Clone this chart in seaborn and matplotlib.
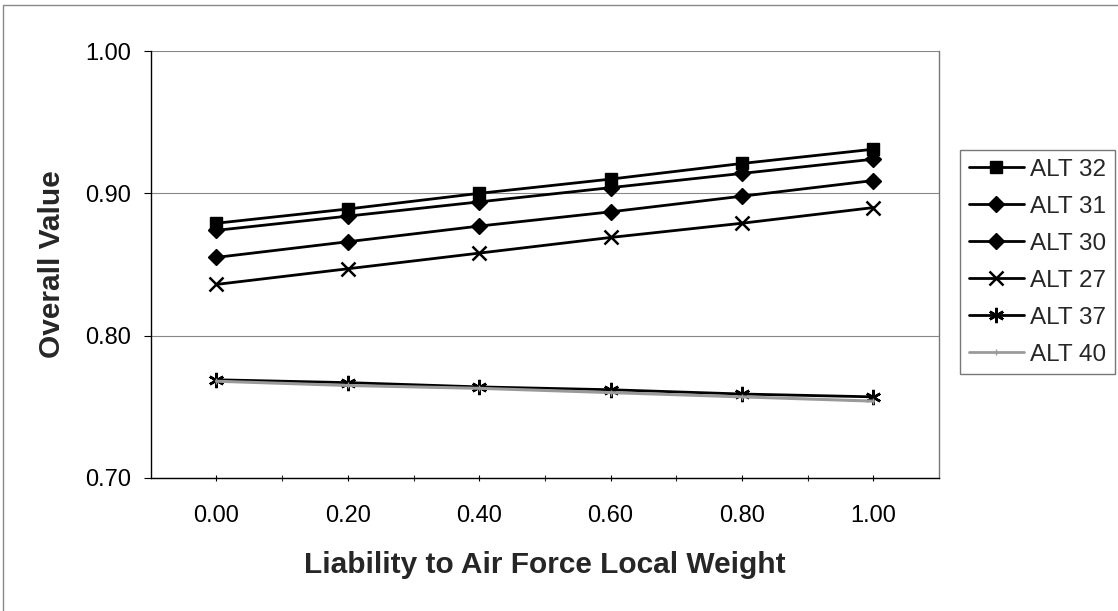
import matplotlib
matplotlib.use("Agg")
import matplotlib.pyplot as plt
import seaborn as sns
import pandas as pd
from matplotlib.patches import Rectangle
from matplotlib.lines import Line2D

sns.set_theme(style="white")
plt.rcParams['font.family'] = ['Liberation Sans', 'DejaVu Sans']

weights = [0.00, 0.20, 0.40, 0.60, 0.80, 1.00]
alt32 = [0.879, 0.889, 0.900, 0.910, 0.921, 0.931]
alt31 = [0.874, 0.884, 0.894, 0.904, 0.914, 0.924]
alt30 = [0.855, 0.866, 0.877, 0.887, 0.898, 0.909]
alt27 = [0.836, 0.847, 0.858, 0.869, 0.879, 0.890]
alt37 = [0.769, 0.767, 0.764, 0.762, 0.759, 0.757]
alt40 = [0.768, 0.765, 0.763, 0.760, 0.757, 0.754]
series_names = ["ALT 32", "ALT 31", "ALT 30", "ALT 27", "ALT 37", "ALT 40"]
series_vals = [alt32, alt31, alt30, alt27, alt37, alt40]
y_ticks = [0.70, 0.80, 0.90, 1.00]

rows = []
for name, vals in zip(series_names, series_vals):
    for w, v in zip(weights, vals):
        rows.append({"w": w, "v": v, "s": name})
df = pd.DataFrame(rows)

palette = {"ALT 32": "black", "ALT 31": "black", "ALT 30": "black",
           "ALT 27": "black", "ALT 37": "black", "ALT 40": "#9a9a9a"}
markers = {"ALT 32": "s", "ALT 31": "D", "ALT 30": "D",
           "ALT 27": "x", "ALT 37": (6, 2, 0), "ALT 40": "|"}
msize = {"ALT 32": 9, "ALT 31": 8, "ALT 30": 8, "ALT 27": 10, "ALT 37": 11, "ALT 40": 4}

fig = plt.figure(figsize=(11.18, 6.11), dpi=100)
ax = fig.add_axes([0.1348, 0.2177, 0.7052, 0.6988])

for name in series_names:
    sub = df[df.s == name]
    sns.lineplot(data=sub, x="w", y="v", ax=ax, color=palette[name],
                 marker=markers[name], markersize=msize[name],
                 markeredgecolor=palette[name], markerfacecolor=palette[name],
                 markeredgewidth=1.8 if name in ("ALT 27", "ALT 37") else 1,
                 linewidth=2.0 if name != "ALT 40" else 2.2,
                 label=name, legend=False)

ax.set_xlim(-0.1, 1.1)
ax.set_ylim(0.70, 1.00)
ax.set_yticks(y_ticks)
ax.set_yticklabels([f"{t:.2f}" for t in y_ticks])
ax.set_xticks(weights)
ax.set_xticklabels([f"{w:.2f}" for w in weights])
ax.set_xticks([w + 0.1 for w in weights[:-1]], minor=True)
ax.grid(axis="y", color="#888888", linewidth=0.8)
ax.grid(axis="x", visible=False)
ax.tick_params(axis="y", which="major", length=5, width=0.8, pad=9,
               labelsize=17, colors="black", left=True, direction="out")
ax.tick_params(axis="x", which="major", length=5, width=0.8, pad=17,
               labelsize=17, colors="black", bottom=True, direction="inout")
ax.tick_params(axis="x", which="minor", length=5, width=0.8, bottom=True, direction="inout")

for side in ["left", "bottom"]:
    ax.spines[side].set_color("black")
    ax.spines[side].set_linewidth(1.0)
ax.spines["top"].set_visible(False)
ax.spines["right"].set_color("#777777")
ax.spines["right"].set_linewidth(1.0)

ax.set_xlabel("Liability to Air Force Local Weight", fontsize=21.5, fontweight="bold", labelpad=17)
ax.set_ylabel("Overall Value", fontsize=21.5, fontweight="bold", labelpad=14)

handles = []
for name in series_names:
    handles.append(Line2D([], [], color=palette[name], marker=markers[name],
                          markersize=msize[name], markeredgecolor=palette[name],
                          markerfacecolor=palette[name],
                          markeredgewidth=1.8 if name in ("ALT 27", "ALT 37") else 1,
                          linewidth=2.0))
leg = fig.legend(handles, series_names, loc="upper left",
                 bbox_to_anchor=(960 / 1118, 1 - 150 / 611),
                 fontsize=17.5, frameon=True, fancybox=False,
                 handlelength=2.3, handletextpad=0.25, labelspacing=0.62,
                 borderpad=0.35, borderaxespad=0)
leg.get_frame().set_edgecolor("#555555")
leg.get_frame().set_linewidth(1.0)

fig.patches.append(Rectangle((0.003, -0.01), 1.2, 1.0 - 0.008 + 0.01, transform=fig.transFigure,
                             fill=False, edgecolor="#888888", linewidth=1.0))

fig.savefig("out.png", dpi=100)
